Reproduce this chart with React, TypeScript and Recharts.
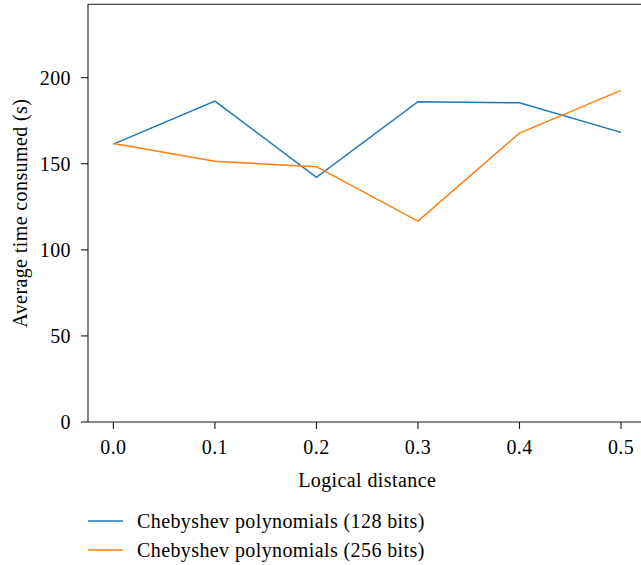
import { LineChart, Line, XAxis, YAxis, Legend, Label, ReferenceLine } from "recharts";

const distances = [0.0, 0.1, 0.2, 0.3, 0.4, 0.5];
const bits128 = [161.4, 186.4, 142.1, 186.0, 185.4, 168.2];
const bits256 = [161.8, 151.4, 148.3, 116.7, 167.8, 192.6];
const xTicks = [0, 0.1, 0.2, 0.3, 0.4, 0.5];
const yTicks = [0, 50, 100, 150, 200];
const Y_MAX = 242.6;
const SERIES = [
  { key: "b128", name: "Chebyshev polynomials (128 bits)", color: "#1f77b4" },
  { key: "b256", name: "Chebyshev polynomials (256 bits)", color: "#ff7f0e" },
];

const FONT = '"Liberation Serif", "DejaVu Serif", serif';
const INK = "#1a1a1a";
const SPACING = "0.4px";

const data = distances.map((d, i) => ({ d, b128: bits128[i], b256: bits256[i] }));

function LegendBox() {
  return (
    <div
      style={{
        height: 60,
        paddingTop: 1.5,
        paddingLeft: 88,
        boxSizing: "border-box",
        fontFamily: FONT,
        fontSize: 20,
        letterSpacing: SPACING,
        color: "#000",
      }}
    >
      {SERIES.map((s) => (
        <div key={s.key} style={{ display: "flex", alignItems: "center", height: 29, whiteSpace: "nowrap" }}>
          <svg width={35} height={4} style={{ marginRight: 14 }}>
            <line x1={0} x2={35} y1={2} y2={2} stroke={s.color} strokeWidth={1.5} />
          </svg>
          <span>{s.name}</span>
        </div>
      ))}
    </div>
  );
}

function YLabel(props: any) {
  const vb = props.viewBox || { x: 0, y: 4, width: 88, height: 418 };
  const cy = vb.y + vb.height / 2;
  return (
    <text
      x={0}
      y={0}
      transform={`translate(26.5, ${cy}) rotate(-90)`}
      textAnchor="middle"
      fontFamily={FONT}
      fontSize={20}
      letterSpacing={SPACING}
      fill="#000"
    >
      Average time consumed (s)
    </text>
  );
}

export default function App() {
  const tickStyle = { fontFamily: FONT, fontSize: 20, fill: "#000", letterSpacing: SPACING };
  return (
    <div style={{ position: "absolute", left: 0, top: 0, background: "#fff" }}>
      <LineChart width={641} height={565} data={data} margin={{ top: 4.3, right: -5.4, bottom: 0, left: 0 }}>
        <XAxis
          dataKey="d"
          type="number"
          domain={[-0.025, 0.525]}
          ticks={xTicks}
          tickFormatter={(v: number) => v.toFixed(1)}
          allowDataOverflow
          height={83}
          tickSize={7}
          tickMargin={11}
          tick={tickStyle}
          stroke={INK}
          axisLine={{ stroke: INK, strokeWidth: 1.1 }}
          tickLine={{ stroke: INK, strokeWidth: 1.1 }}
        >
          <Label
            value="Logical distance"
            position="insideBottom"
            offset={18.3}
            fontFamily={FONT}
            fontSize={20}
            letterSpacing={SPACING}
            fill="#000"
          />
        </XAxis>
        <YAxis
          type="number"
          domain={[0, Y_MAX]}
          ticks={yTicks}
          allowDataOverflow
          width={88}
          tickSize={7}
          tickMargin={10}
          tick={tickStyle}
          stroke={INK}
          axisLine={{ stroke: INK, strokeWidth: 1.1 }}
          tickLine={{ stroke: INK, strokeWidth: 1.1 }}
        >
          <Label content={<YLabel />} />
        </YAxis>
        {/* top spine of the frame */}
        <ReferenceLine y={Y_MAX} stroke={INK} strokeWidth={1.1} ifOverflow="visible" />
        <Legend verticalAlign="bottom" align="left" content={<LegendBox />} />
        {SERIES.map((s) => (
          <Line
            key={s.key}
            dataKey={s.key}
            name={s.name}
            stroke={s.color}
            strokeWidth={1.5}
            dot={false}
            activeDot={false}
            isAnimationActive={false}
          />
        ))}
      </LineChart>
    </div>
  );
}
